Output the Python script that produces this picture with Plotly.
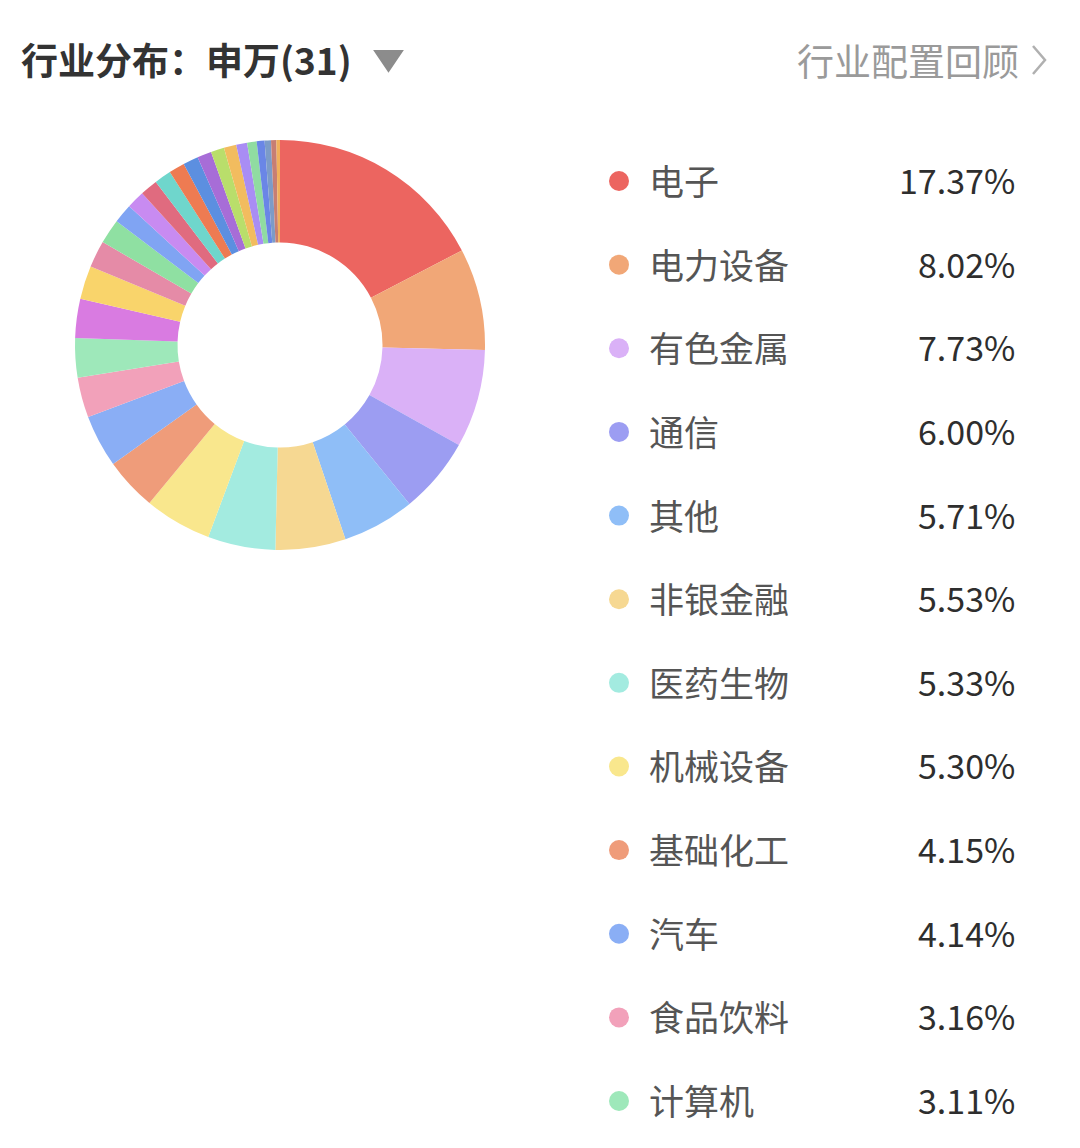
import plotly.graph_objects as go

# page is rendered with an 8px body margin: work in page pixels, convert with OFF
OFF = 8
PAGE_W, PAGE_H = 1080, 1148
W, H = PAGE_W - 2 * OFF, PAGE_H - 2 * OFF

# ---------------- data ----------------
industries = [
    "电子", "电力设备", "有色金属", "通信", "其他", "非银金融", "医药生物",
    "机械设备", "基础化工", "汽车", "食品饮料", "计算机",
    "国防军工", "银行", "交通运输", "公用事业", "家用电器", "建筑装饰",
    "传媒", "石油石化", "农林牧渔", "商贸零售", "轻工制造", "社会服务",
    "建筑材料", "房地产", "环保", "纺织服饰", "美容护理", "钢铁", "煤炭",
]
weights = [
    17.37, 8.02, 7.73, 6.00, 5.71, 5.53, 5.33, 5.30, 4.15, 4.14, 3.16, 3.11,
    3.08, 2.62, 2.12, 1.95, 1.52, 1.42, 1.38, 1.33, 1.25, 1.20, 1.12, 1.05,
    0.98, 0.86, 0.75, 0.62, 0.50, 0.42, 0.28,
]
colors = [
    "#EC6560", "#F1A777", "#DAB1F7", "#9C9DF2", "#8FBEF7", "#F6D892",
    "#A3EBE0", "#F9E78D", "#EF9C7A", "#8AAEF5", "#F2A1BA", "#9EE8BA",
    "#D97BE1", "#F9D46B", "#E58BA7", "#8FE0A2", "#80A4F3", "#C88BF1",
    "#E06B7F", "#6FD6CC", "#EE7B52", "#5C8FE0", "#A76DD7", "#B9DE6B",
    "#F2BC5F", "#A98DF4", "#90DCA1", "#6A86E6", "#7C9BC8", "#C77E73",
    "#F0B05B",
]
n_legend = 12
title_text = "行业分布：申万(31)"
link_text = "行业配置回顾"

# ---------------- layout constants (page pixels) ----------------
cx, cy, R = 280, 345, 205
row_top, row_step = 179.5, 83.64
dot_x, label_x, pct_right = 619, 647, 1017
FONT = "Noto Sans CJK SC"


def px(x):
    return (x - OFF) / W


def py(y):
    return 1 - (y - OFF) / H


fig = go.Figure()

fig.add_trace(go.Pie(
    labels=industries,
    values=weights,
    marker=dict(colors=colors, line=dict(width=0)),
    hole=0.5,
    sort=False,
    direction="clockwise",
    rotation=0,
    textinfo="none",
    showlegend=False,
    domain=dict(x=[px(cx - R), px(cx + R)], y=[py(cy + R), py(cy - R)]),
))

# legend dots on invisible pixel axes
rows_y = [row_top + i * row_step for i in range(n_legend)]
fig.add_trace(go.Scatter(
    x=[dot_x - OFF] * n_legend,
    y=[r + 1.5 - OFF for r in rows_y],
    mode="markers",
    marker=dict(size=20, color=colors[:n_legend], line=dict(width=0)),
    hoverinfo="skip",
    showlegend=False,
))

annotations = []
for i in range(n_legend):
    annotations.append(dict(
        x=px(label_x), y=py(rows_y[i]), xref="paper", yref="paper",
        text=industries[i], showarrow=False, xanchor="left", yanchor="middle",
        font=dict(family=FONT, size=35, color="#555555"),
    ))
    annotations.append(dict(
        x=px(pct_right), y=py(rows_y[i]), xref="paper", yref="paper",
        text=f"{weights[i]:.2f}%", showarrow=False, xanchor="right", yanchor="middle",
        font=dict(family=FONT, size=34, color="#2E2E2E"),
    ))

annotations.append(dict(
    x=px(19), y=py(59), xref="paper", yref="paper",
    text=f"<b>{title_text}</b>", showarrow=False, xanchor="left", yanchor="middle",
    font=dict(family=FONT, size=37, color="#333333"),
))
annotations.append(dict(
    x=px(1021), y=py(60), xref="paper", yref="paper",
    text=link_text, showarrow=False, xanchor="right", yanchor="middle",
    font=dict(family=FONT, size=37, color="#9A9A9A"),
))

shapes = [
    dict(type="path", xref="x", yref="y",
         path=f"M{375-OFF},{51-OFF} L{402-OFF},{51-OFF} L{388.5-OFF},{71-OFF} Z",
         fillcolor="#8C8C8C", line=dict(color="#8C8C8C", width=2)),
    dict(type="path", xref="x", yref="y",
         path=f"M{1033-OFF},{46-OFF} L{1045-OFF},{60-OFF} L{1033-OFF},{74-OFF}",
         line=dict(color="#B0B0B0", width=2.5)),
]

fig.update_layout(
    width=W, height=H,
    margin=dict(l=0, r=0, t=0, b=0),
    paper_bgcolor="white", plot_bgcolor="rgba(0,0,0,0)",
    xaxis=dict(range=[0, W], visible=False, domain=[0, 1], fixedrange=True),
    yaxis=dict(range=[H, 0], visible=False, domain=[0, 1], fixedrange=True),
    annotations=annotations,
    shapes=shapes,
    font=dict(family=FONT),
)

fig.write_html("out.html", config={"displayModeBar": False})
